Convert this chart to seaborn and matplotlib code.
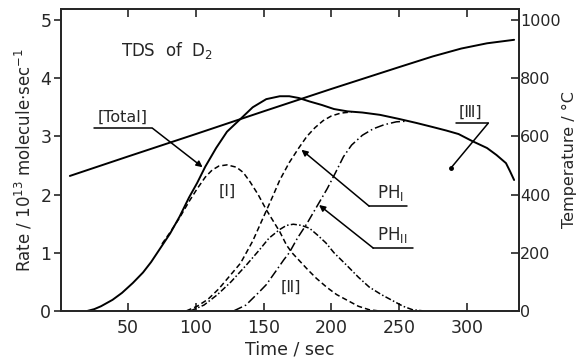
import matplotlib
import pandas as pd

matplotlib.use("Agg")
import matplotlib.pyplot as plt
import seaborn as sns

# time (sec) / rate (10^13 molecule/sec)
total_t = [20, 25, 30, 38.5, 45.5, 53.5, 61, 67, 73, 81, 88, 95, 101, 107, 115, 123,
           133, 142, 152, 162, 169, 176, 184, 193, 202, 212, 223, 236, 250, 263, 275,
           285, 294, 304, 315, 322, 329, 332, 335]
total_r = [0, 0.03, 0.08, 0.19, 0.31, 0.48, 0.66, 0.84, 1.05, 1.33, 1.62, 1.95, 2.2,
           2.48, 2.8, 3.08, 3.3, 3.5, 3.64, 3.69, 3.69, 3.66, 3.6, 3.54, 3.47, 3.43,
           3.41, 3.37, 3.3, 3.23, 3.16, 3.1, 3.04, 2.92, 2.8, 2.68, 2.54, 2.4, 2.25]

peak1_t = [75, 81, 88, 95, 101, 107, 112, 117, 123, 130, 135, 140, 146, 152, 157,
           162, 167, 171, 177, 183, 189, 197, 204, 212, 220, 228, 235]
peak1_r = [1.15, 1.35, 1.6, 1.88, 2.1, 2.3, 2.42, 2.49, 2.51, 2.47, 2.38, 2.22, 2.0,
           1.74, 1.55, 1.36, 1.13, 1.0, 0.85, 0.7, 0.56, 0.4, 0.28, 0.18, 0.08, 0.02, 0]

peak2_t = [96, 106, 116, 126, 137, 147, 154, 162, 167, 172, 178, 184, 190, 196, 202,
           212, 220, 228, 237, 245, 253, 260, 268]
peak2_r = [0, 0.1, 0.28, 0.5, 0.78, 1.05, 1.25, 1.4, 1.47, 1.49, 1.47, 1.42, 1.3,
           1.17, 1.0, 0.77, 0.58, 0.41, 0.28, 0.18, 0.08, 0.02, 0]

ph1_t = [93, 101, 109, 117, 125, 133, 142, 152, 157, 162, 169, 176, 182, 188, 194,
         200, 207, 215]
ph1_r = [0, 0.08, 0.2, 0.38, 0.6, 0.82, 1.2, 1.72, 1.98, 2.25, 2.55, 2.8, 3.0, 3.15,
         3.27, 3.35, 3.4, 3.42]

ph2_t = [128, 137, 147, 152, 159, 165, 169, 175, 182, 187, 191, 197, 203, 209, 215,
         223, 231, 239, 248, 255]
ph2_r = [0, 0.1, 0.33, 0.45, 0.68, 0.88, 1.0, 1.25, 1.5, 1.7, 1.86, 2.1, 2.37, 2.65,
         2.85, 3.02, 3.13, 3.2, 3.25, 3.26]

temp_t = [7, 50, 100, 150, 200, 250, 275, 296, 315, 335]
temp_c = [464, 531, 608, 686, 763, 838, 875, 902, 920, 932]

sns.set_style("ticks")
plt.rcParams["font.family"] = ["DejaVu Sans"]
plt.rcParams["font.size"] = 12

fig = plt.figure(figsize=(5.76, 3.59), dpi=100)
ax = fig.add_axes([0.106, 0.134, 0.795, 0.841])
ax2 = ax.twinx()

k = dict(color="black", sort=False, estimator=None)
sns.lineplot(x=temp_t, y=temp_c, ax=ax2, lw=1.4, **k)
sns.lineplot(x=peak1_t, y=peak1_r, ax=ax, lw=1.1, linestyle=(0, (3.5, 2)), **k)
sns.lineplot(x=ph1_t, y=ph1_r, ax=ax, lw=1.1, linestyle=(0, (3.5, 2)), **k)
sns.lineplot(x=peak2_t, y=peak2_r, ax=ax, lw=1.1, linestyle=(0, (4, 1.5, 1, 1.5)), **k)
sns.lineplot(x=ph2_t, y=ph2_r, ax=ax, lw=1.1, linestyle=(0, (6, 2, 1, 2)), **k)
sns.lineplot(x=total_t, y=total_r, ax=ax, lw=1.4, **k)

ax.set_xlim(0.5, 338.6)
ax.set_ylim(0, 5.19)
ax2.set_ylim(0, 1038)
ax.set_xticks([50, 100, 150, 200, 250, 300])
ax.set_yticks([0, 1, 2, 3, 4, 5])
ax2.set_yticks([0, 200, 400, 600, 800, 1000])

ax.tick_params(axis="x", direction="in", top=True, length=6, width=1.2, pad=6,
               labelsize=12.5)
ax.tick_params(axis="y", direction="out", length=5, width=1.2, pad=2, labelsize=12.5)
ax2.tick_params(axis="y", direction="in", length=6, width=1.2, pad=1, labelsize=11.5)
for a in (ax, ax2):
    for s in a.spines.values():
        s.set_linewidth(1.3)
        s.set_visible(True)

ax.set_xlabel("Time / sec", fontsize=12.5, labelpad=2)
ax.set_ylabel("Rate / 10$^{13}$ molecule$\\cdot$sec$^{-1}$", fontsize=12, labelpad=4)
ax2.set_ylabel("Temperature / \u00b0C", fontsize=11.5, labelpad=1)

arrow = dict(arrowstyle="-|>", color="black", lw=1.1, mutation_scale=9,
             shrinkA=0, shrinkB=0)

# annotations
ax.text(45, 4.48, "TDS  of  D$_2$", fontsize=12, va="center")
ax.text(46, 3.2, "[Total]", fontsize=11.5, ha="center", va="bottom")
ax.plot([25, 68], [3.14, 3.14], color="black", lw=1.1)
ax.annotate("", xy=(105, 2.47), xytext=(68, 3.14), arrowprops=arrow)
ax.text(123, 2.05, "[\u2160]", fontsize=11.5, ha="center", va="center")
ax.text(170, 0.41, "[\u2161]", fontsize=11.5, ha="center", va="center")

ax.text(234, 1.86, "PH$_{\\mathrm{I}}$", fontsize=12, ha="left", va="bottom")
ax.plot([228, 256], [1.80, 1.80], color="black", lw=1.1)
ax.annotate("", xy=(178, 2.77), xytext=(228, 1.80), arrowprops=arrow)

ax.text(234, 1.14, "PH$_{\\mathrm{II}}$", fontsize=12, ha="left", va="bottom")
ax.plot([231, 260], [1.08, 1.08], color="black", lw=1.1)
ax.annotate("", xy=(191, 1.82), xytext=(231, 1.08), arrowprops=arrow)

ax.text(303, 3.28, "[\u2162]", fontsize=11.5, ha="center", va="bottom")
ax.plot([292, 316], [3.23, 3.23], color="black", lw=1.1)
ax.plot([316, 288.5], [3.23, 2.46], color="black", lw=1.1)
ax.plot([288.5], [2.46], "o", color="black", ms=2.5)

fig.savefig("out.png", dpi=100)
